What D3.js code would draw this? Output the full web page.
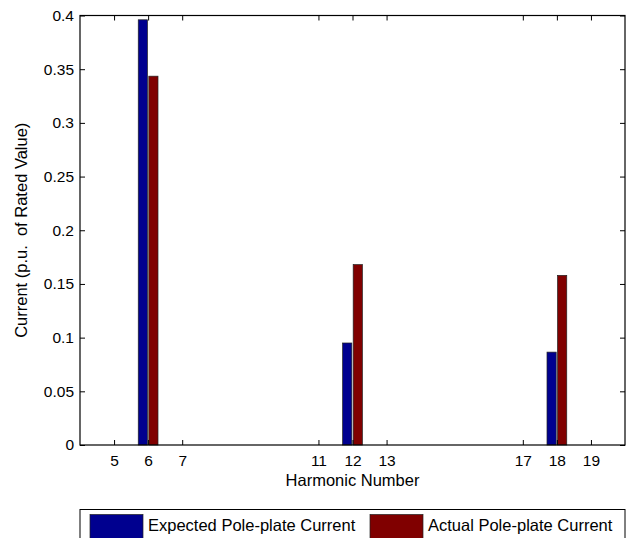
<!DOCTYPE html>
<html>
<head>
<meta charset="utf-8">
<script src="https://cdn.jsdelivr.net/npm/d3@7"></script>
<style>
  body { margin: 0; background: #fff; }
  svg { display: block; font-family: "Liberation Sans", Arial, Helvetica, sans-serif; }
</style>
</head>
<body>
<div id="chart"></div>
<script>
// harmonic orders and measured currents (p.u.)
var harmonics = [5, 6, 7, 11, 12, 13, 17, 18, 19];
var expected = [0, 0.396, 0, 0, 0.095, 0, 0, 0.0865, 0];
var actual = [0, 0.3435, 0, 0, 0.168, 0, 0, 0.158, 0];
var yTicks = [0, 0.05, 0.1, 0.15, 0.2, 0.25, 0.3, 0.35, 0.4];
var seriesNames = ["Expected Pole-plate Current", "Actual Pole-plate Current"];
var seriesColors = ["#00008f", "#800000"];

var width = 629, height = 538;
var m = {left: 80, right: 625, top: 15.5, bottom: 445};

var svg = d3.select("#chart").append("svg")
  .attr("width", width)
  .attr("height", height);

var x = d3.scaleLinear().domain([4, 20]).range([m.left, m.right]);
var y = d3.scaleLinear().domain([0, 0.4]).range([m.bottom, m.top]);

// bars
var offset = 0.155, barW = 0.27;
[expected, actual].forEach(function(vals, s) {
  svg.append("g").selectAll("rect")
    .data(harmonics.map(function(h, i) { return {h: h, v: vals[i]}; }))
    .enter().append("rect")
    .attr("x", function(d) { return x(d.h + (s == 0 ? -offset : offset) - barW / 2); })
    .attr("width", x(barW) - x(0))
    .attr("y", function(d) { return y(d.v); })
    .attr("height", function(d) { return y(0) - y(d.v); })
    .attr("fill", seriesColors[s])
    .attr("stroke", "#222")
    .attr("stroke-width", 0.7);
});

// axes, ticks pointing inwards on every side
var fs = "15.5px";
var xAxis = d3.axisBottom(x).tickValues(harmonics).tickSizeInner(-5).tickSizeOuter(0).tickPadding(10);
var yAxis = d3.axisLeft(y).tickValues(yTicks).tickSizeInner(-5).tickSizeOuter(0).tickPadding(6)
  .tickFormat(function(d) { return d3.format("")(+d.toFixed(2)); });

var gx = svg.append("g").attr("transform", "translate(0," + m.bottom + ")").call(xAxis);
var gy = svg.append("g").attr("transform", "translate(" + m.left + ",0)").call(yAxis);
var gx2 = svg.append("g").attr("transform", "translate(0," + m.top + ")")
  .call(d3.axisTop(x).tickValues(harmonics).tickSizeInner(-5).tickSizeOuter(0).tickFormat(""));
var gy2 = svg.append("g").attr("transform", "translate(" + m.right + ",0)")
  .call(d3.axisRight(y).tickValues(yTicks).tickSizeInner(-5).tickSizeOuter(0).tickFormat(""));

[gx, gy, gx2, gy2].forEach(function(g) {
  g.select(".domain").remove();
  g.selectAll(".tick line").attr("stroke", "#000").attr("stroke-width", 1);
  g.selectAll("text").attr("fill", "#000").style("font-size", fs).style("font-family", null);
});

svg.append("rect")
  .attr("x", m.left).attr("y", m.top)
  .attr("width", m.right - m.left).attr("height", m.bottom - m.top)
  .attr("fill", "none").attr("stroke", "#000").attr("stroke-width", 1.2);

// axis labels
svg.append("text")
  .attr("x", (m.left + m.right) / 2).attr("y", 486)
  .attr("text-anchor", "middle").style("font-size", "16.5px")
  .text("Harmonic Number");

svg.append("text")
  .attr("transform", "translate(27," + ((m.top + m.bottom) / 2) + ") rotate(-90)")
  .attr("text-anchor", "middle").style("font-size", "16.5px")
  .style("white-space", "pre")
  .text("Current (p.u.  of Rated Value)");

// legend
var leg = svg.append("g");
leg.append("rect")
  .attr("x", m.left).attr("y", 509.5)
  .attr("width", m.right - m.left).attr("height", 40)
  .attr("fill", "#fff").attr("stroke", "#000").attr("stroke-width", 1);
var legX = [90, 370];
seriesNames.forEach(function(name, i) {
  leg.append("rect")
    .attr("x", legX[i]).attr("y", 514.5)
    .attr("width", 53).attr("height", 24)
    .attr("fill", seriesColors[i]).attr("stroke", "#222").attr("stroke-width", 0.7);
  leg.append("text")
    .attr("x", legX[i] + 58).attr("y", 531)
    .style("font-size", "16.5px")
    .text(name);
});
</script>
</body>
</html>
